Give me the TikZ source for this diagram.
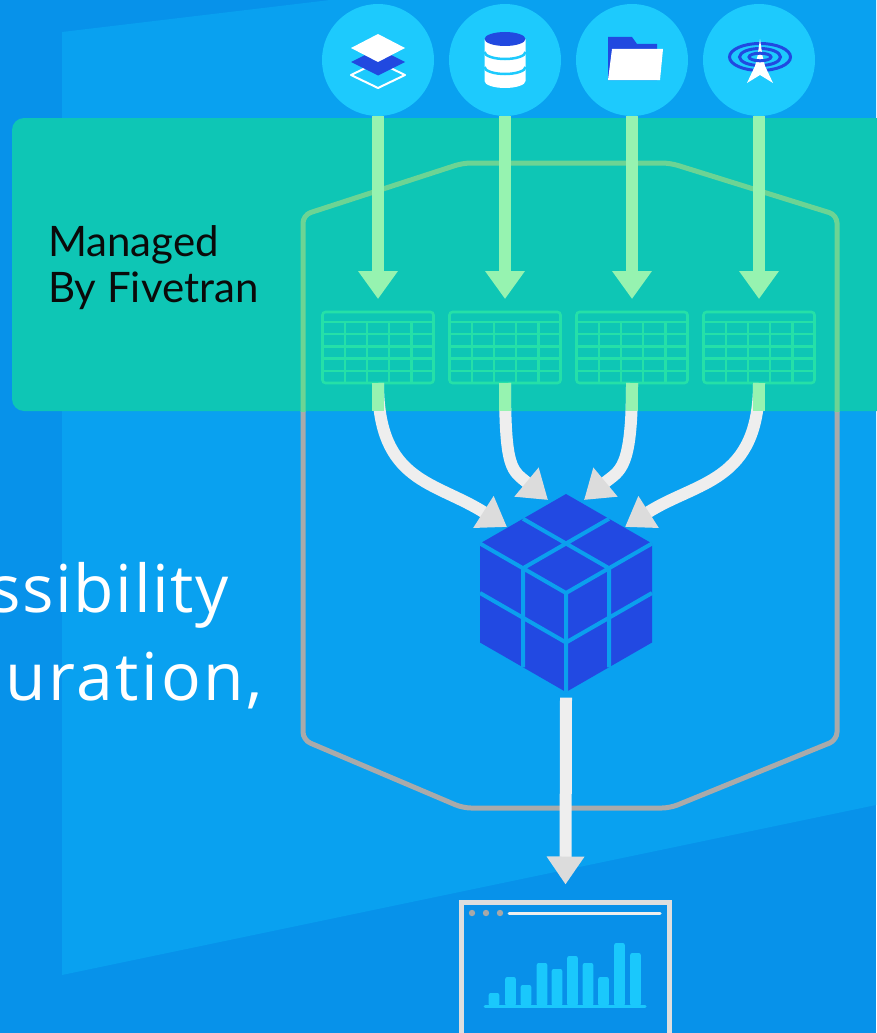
\documentclass[tikz,border=0pt]{standalone}
\usepackage{fontspec}
\setmainfont{Open Sans}
\newfontfamily\labelfont{Lato}
\newfontfamily\leadfont[LetterSpace=4]{Open Sans}
\newfontfamily\leadfontnarrow[LetterSpace=2.5]{Open Sans}
\usetikzlibrary{arrows.meta,calc}

\definecolor{bgdark}{HTML}{0792EA}
\definecolor{bgpanel}{HTML}{09A1F0}
\definecolor{bandteal}{HTML}{0EC6B5}
\definecolor{hexgreen}{HTML}{6CD494}
\definecolor{hexgrey}{HTML}{AAAAAA}
\definecolor{tblgreen}{HTML}{25E0A8}
\definecolor{feedgreen}{HTML}{96F3B0}
\definecolor{shaftwhite}{HTML}{EEEEEE}
\definecolor{headgrey}{HTML}{DCDCDC}
\definecolor{srccyan}{HTML}{1DCAFD}
\definecolor{iconblue}{HTML}{2149E0}
\definecolor{cubeblue}{HTML}{2249E2}
\definecolor{cubegap}{HTML}{0BA0EE}
\definecolor{dashgrey}{HTML}{DEDEDE}
\definecolor{dashfill}{HTML}{0890E9}
\definecolor{dotgrey}{HTML}{A8A8A8}
\definecolor{barcyan}{HTML}{1AC8FC}
\definecolor{labelink}{HTML}{0A0A0A}

\begin{document}
\begin{tikzpicture}[x=1pt,y=-1pt,
  src/.style={circle, fill=srccyan, minimum size=112pt, inner sep=0pt, outer sep=0pt},
  tbl/.style={draw=tblgreen, line width=2.6pt, rounded corners=3pt, minimum width=111pt,
              minimum height=71pt, inner sep=0pt, outer sep=0pt},
  grid/.style={draw=tblgreen, line width=2.4pt},
  feed/.style={draw=feedgreen, line width=12pt, -{Triangle[length=28pt,width=38pt]}},
  flow/.style={draw=shaftwhite, line width=12pt, -{Triangle[length=28pt,width=36pt,color=headgrey]}},
  hexline/.style={line width=5pt, rounded corners=8pt},
  gap/.style={draw=cubegap, line width=4pt},
  bar/.style={fill=barcyan, rounded corners=2pt},
  txt/.style={inner sep=0pt, anchor=base west},
]
\useasboundingbox (0,0) rectangle (876,1033);

% background and lighter slanted panel
\fill[bgdark] (0,0) rectangle (876,1033);
\fill[bgpanel] (62,32) -- (330,0) -- (876,0) -- (876,805) -- (62,975) -- cycle;

% pipeline outline
\draw[hexline, hexgrey] (566,163) -- (670,163) -- (837,215) -- (837,740) -- (670,808)
  -- (463,808) -- (303,740) -- (303,215) -- (463,163) -- cycle;

% managed band
\fill[bandteal, rounded corners=12pt] (12,118) rectangle (905,411);
\begin{scope}
  \clip (12,118) rectangle (905,411);
  \draw[hexline, hexgreen] (566,163) -- (670,163) -- (837,215) -- (837,740) -- (670,808)
    -- (463,808) -- (303,740) -- (303,215) -- (463,163) -- cycle;
\end{scope}

\node[txt, text=labelink, font=\labelfont\fontsize{42pt}{46pt}\selectfont] (mg1) at (48,256) {Managed};
\node[txt, text=labelink, font=\labelfont\fontsize{42pt}{46pt}\selectfont] (mg2) at (48,302) {By Fivetran};

% sources
\node[src] (c1) at (378,60) {};
\node[src] (c2) at (505,60) {};
\node[src] (c3) at (632,60) {};
\node[src] (c4) at (759,60) {};

% layers icon
\begin{scope}[shift={(c1.center)}]
  \draw[white, line width=2pt, line join=round] (-27,15) -- (0,2) -- (27,15) -- (0,28) -- cycle;
  \fill[iconblue] (-27,2) -- (0,-11.5) -- (27,2) -- (0,15.5) -- cycle;
  \fill[white] (-27,-12) -- (0,-26) -- (27,-12) -- (0,2) -- cycle;
\end{scope}

% database icon
\begin{scope}[shift={(c2.center)}]
  \fill[white] (-20.5,-21) -- (-20.5,21)
    arc[start angle=180, end angle=360, x radius=20.5pt, y radius=7pt] -- (20.5,-21) -- cycle;
  \fill[iconblue] (0,-21) ellipse[x radius=20.5pt, y radius=7pt];
  \draw[srccyan, line width=2.5pt] (-20.5,-8)
    arc[start angle=180, end angle=360, x radius=20.5pt, y radius=7pt];
  \draw[srccyan, line width=2.5pt] (-20.5,7)
    arc[start angle=180, end angle=360, x radius=20.5pt, y radius=7pt];
\end{scope}

% folder icon
\begin{scope}[shift={(c3.center)}]
  \fill[iconblue] (-24,-23) -- (0,-23) -- (5,-16) -- (25,-16) -- (25,20) -- (-24,20) -- cycle;
  \fill[white] (-24,20) -- (28,20) -- (31,-11) -- (-20,-11) -- cycle;
\end{scope}

% stream icon
\begin{scope}[shift={(c4.center)}]
  \draw[iconblue, line width=3pt] (1,-3) ellipse[x radius=30.5pt, y radius=13.5pt];
  \draw[iconblue, line width=3pt] (1,-3) ellipse[x radius=20.5pt, y radius=8.5pt];
  \fill[white] (1,-21) -- (3.5,-4) -- (6,6) -- (14,23) -- (1,15) -- (-12,23) -- (-4,6)
    -- (-1.5,-4) -- cycle;
  \draw[iconblue, line width=3pt] (1,-3) ellipse[x radius=11pt, y radius=3.8pt];
\end{scope}

% landing tables
\node[tbl] (t1) at (378,347.5) {};
\node[tbl] (t2) at (505,347.5) {};
\node[tbl] (t3) at (632,347.5) {};
\node[tbl] (t4) at (759,347.5) {};
\foreach \i in {1,...,4} {
  \draw[grid] ($(t\i.north west)+(0,10)$) -- ($(t\i.north east)+(0,10)$);
  \foreach \k in {1,...,4} {
    \draw[grid] ($(t\i.north west)+(0,10+12.2*\k)$) -- ($(t\i.north east)+(0,10+12.2*\k)$);
    \draw[grid] ($(t\i.north west)+(22.2*\k,10)$) -- ($(t\i.south west)+(22.2*\k,0)$);
  }
  \draw[feed] (c\i.south) -- ($(t\i.north)+(0,-13)$);
}

% warehouse cube
\node[inner sep=0pt, minimum width=172pt, minimum height=197pt] (cube) at (566,593) {};
\coordinate (cC) at (566,593);
\coordinate (cT) at (566,494);
\coordinate (cUR) at (652,543.5);
\coordinate (cLR) at (652,642.5);
\coordinate (cB) at (566,692);
\coordinate (cLL) at (480,642.5);
\coordinate (cUL) at (480,543.5);
\fill[cubeblue] (cT) -- (cUR) -- (cLR) -- (cB) -- (cLL) -- (cUL) -- cycle;
\draw[gap] (cC) -- (cUL) (cC) -- (cUR) (cC) -- (cB)
  ($(cT)!.5!(cUL)$) -- ($(cUR)!.5!(cC)$)
  ($(cT)!.5!(cUR)$) -- ($(cUL)!.5!(cC)$)
  ($(cUL)!.5!(cC)$) -- ($(cLL)!.5!(cB)$)
  ($(cUL)!.5!(cLL)$) -- ($(cC)!.5!(cB)$)
  ($(cUR)!.5!(cC)$) -- ($(cLR)!.5!(cB)$)
  ($(cUR)!.5!(cLR)$) -- ($(cC)!.5!(cB)$);

% loads into the warehouse
\coordinate (in1) at (507,527);
\coordinate (in2) at (548,500);
\coordinate (in3) at (584,500);
\coordinate (in4) at (625,527);
\draw[flow] (t1.south) .. controls +(0,100) and +(-72,-46) .. (in1);
\draw[flow] (t2.south) .. controls +(0,88) and +(-36,-30) .. (in2);
\draw[flow] (t3.south) .. controls +(0,88) and +(36,-30) .. (in3);
\draw[flow] (t4.south) .. controls +(0,100) and +(72,-46) .. (in4);
\foreach \i in {1,...,4}
  \draw[feedgreen, line width=12pt] (t\i.south) -- ++(0,28);

% dashboard
\node[draw=dashgrey, line width=4.5pt, fill=dashfill, minimum width=208pt, minimum height=150pt,
      anchor=north west, inner sep=0pt, outer sep=0pt] (dash) at (461.5,902.5) {};
\draw[flow] ($(cube.south)+(0,6)$) -- ($(dash.north)+(0,-18)$);
\foreach \x in {472,486,500} \fill[dotgrey] (\x,913) circle[radius=3.2pt];
\draw[shaftwhite, line width=3pt, line cap=round] (509,913) -- (660,913);
\foreach \x/\t in {494/993, 510.5/977, 526/985, 542/963, 557/969, 572.5/956, 588/963,
                   603.5/977, 619.5/943, 635.5/953}
  \fill[bar] (\x-5.3,1006) -- (\x-5.3,\t) -- (\x+5.3,\t) -- (\x+5.3,1006) -- cycle;
\draw[barcyan, line width=3pt, line cap=round] (485,1006) -- (645,1006);

% lead copy
\node[txt, text=white, font=\leadfontnarrow\fontsize{66pt}{70pt}\selectfont] (lead1) at (-11,612) {ssibility};
\node[txt, text=white, font=\leadfont\fontsize{66pt}{70pt}\selectfont] (lead2) at (5,700) {uration,};
\end{tikzpicture}
\end{document}
